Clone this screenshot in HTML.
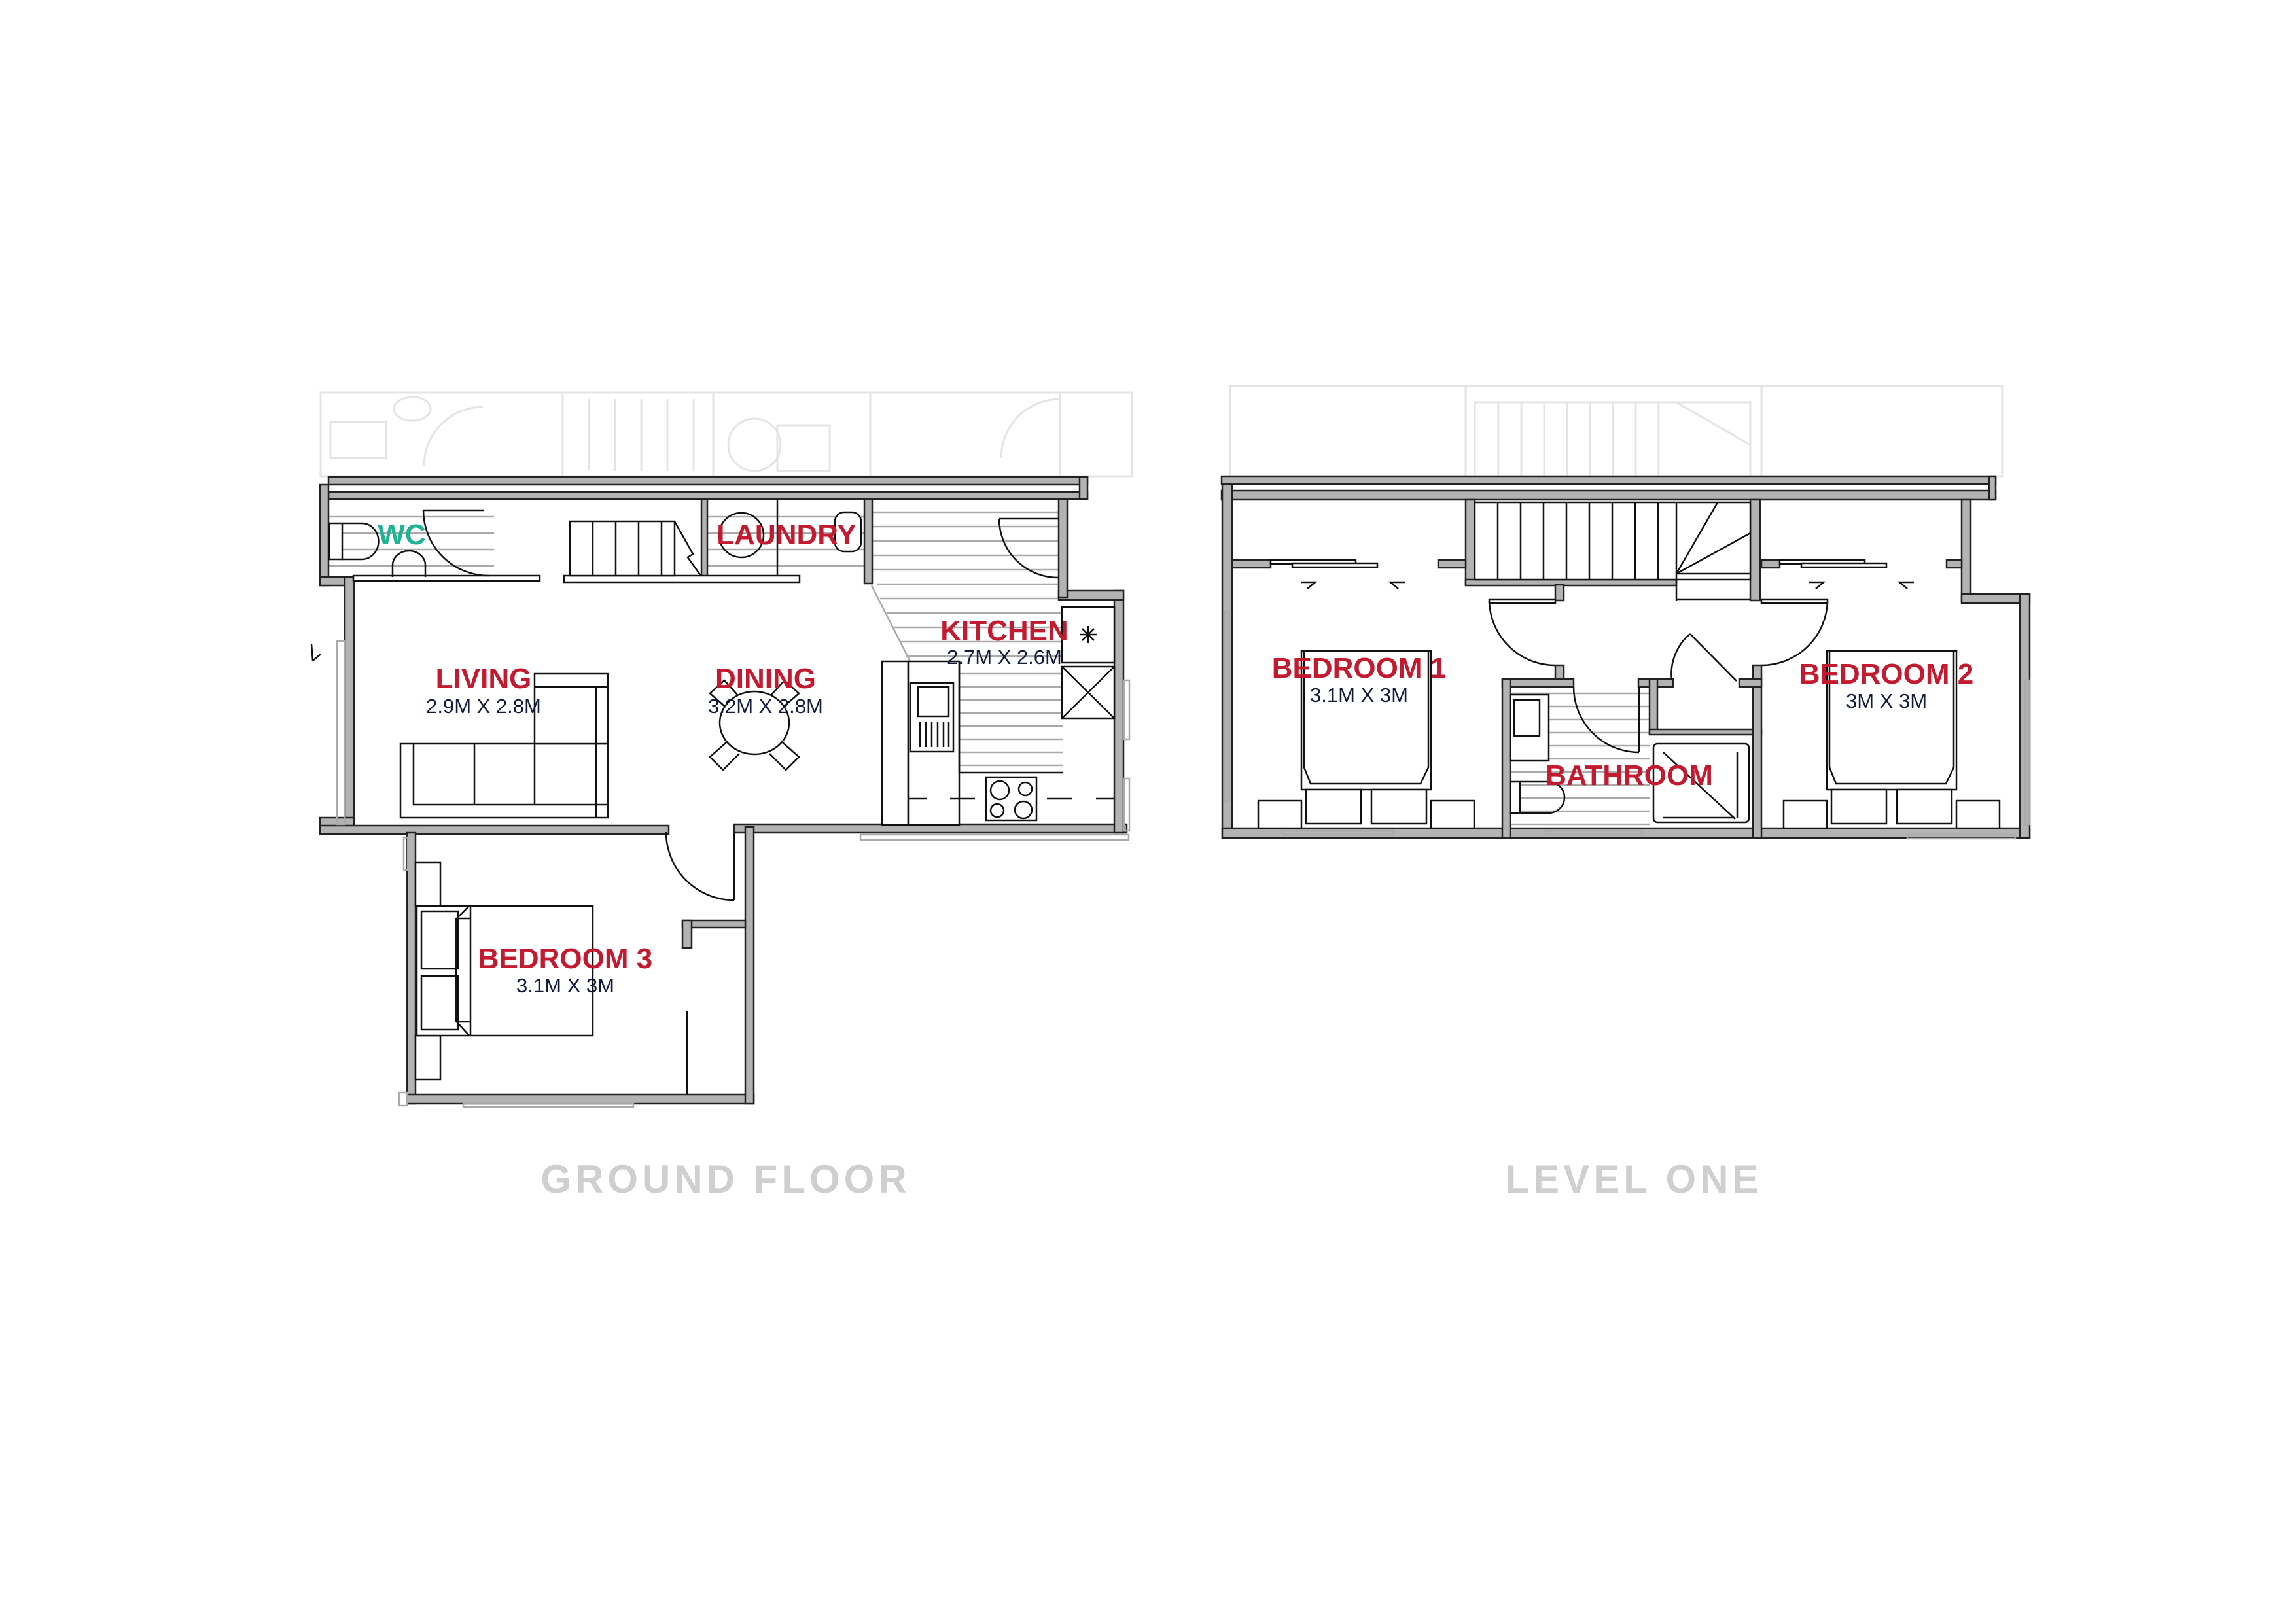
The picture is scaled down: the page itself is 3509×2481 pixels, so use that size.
<!DOCTYPE html>
<html><head><meta charset="utf-8"><style>
html,body{margin:0;padding:0;background:#fff;}
svg{display:block;}
.w{fill:#b3b3b3;stroke:#222;stroke-width:2.5;}
.f{fill:#fff;stroke:#111;stroke-width:2.5;}
.l{fill:none;stroke:#111;stroke-width:2.5;}
.h{fill:none;stroke:#aaa;stroke-width:2.5;}
.g{fill:none;stroke:#e4e4e4;stroke-width:3;}
.t{font-family:"Liberation Sans",sans-serif;font-weight:bold;fill:#c41a30;font-size:44px;text-anchor:middle;}
.s{font-family:"Liberation Sans",sans-serif;fill:#141a3c;font-size:31px;text-anchor:middle;}
.ti{font-family:"Liberation Sans",sans-serif;font-weight:bold;fill:#cfcfcf;font-size:60px;text-anchor:middle;letter-spacing:6px;}
</style></head><body>
<svg width="3509" height="2481" viewBox="0 0 3509 2481" xmlns="http://www.w3.org/2000/svg">
<g class="g">
<rect x="490" y="600" width="1240" height="128"/>
<line x1="860" y1="600" x2="860" y2="728"/><line x1="1090" y1="600" x2="1090" y2="728"/>
<line x1="1330" y1="600" x2="1330" y2="728"/><line x1="1620" y1="600" x2="1620" y2="728"/>
<circle cx="1153" cy="680" r="40"/><rect x="1188" y="650" width="80" height="70"/>
<rect x="505" y="645" width="85" height="55"/><ellipse cx="630" cy="625" rx="28" ry="18"/>
<path d="M648 712 A90 90 0 0 1 738 622"/><path d="M1530 700 A90 90 0 0 1 1620 610"/>
<line x1="900" y1="610" x2="900" y2="720"/><line x1="940" y1="610" x2="940" y2="720"/><line x1="980" y1="610" x2="980" y2="720"/><line x1="1020" y1="610" x2="1020" y2="720"/><line x1="1060" y1="610" x2="1060" y2="720"/>
<rect x="1880" y="590" width="1180" height="138"/>
<rect x="2254" y="615" width="421" height="113"/>
<line x1="2290" y1="615" x2="2290" y2="728"/><line x1="2325" y1="615" x2="2325" y2="728"/><line x1="2360" y1="615" x2="2360" y2="728"/><line x1="2395" y1="615" x2="2395" y2="728"/><line x1="2430" y1="615" x2="2430" y2="728"/><line x1="2465" y1="615" x2="2465" y2="728"/><line x1="2500" y1="615" x2="2500" y2="728"/><line x1="2535" y1="615" x2="2535" y2="728"/><line x1="2562" y1="615" x2="2675" y2="680"/>
<line x1="2240" y1="590" x2="2240" y2="728"/><line x1="2692" y1="590" x2="2692" y2="728"/>
</g>
<g class="h">
<line x1="502" y1="790" x2="755" y2="790"/><line x1="502" y1="815" x2="755" y2="815"/><line x1="502" y1="840" x2="755" y2="840"/><line x1="502" y1="865" x2="755" y2="865"/>
<line x1="1081" y1="790" x2="1321" y2="790"/><line x1="1081" y1="815" x2="1321" y2="815"/><line x1="1081" y1="840" x2="1321" y2="840"/><line x1="1081" y1="865" x2="1321" y2="865"/>
<line x1="1333" y1="783" x2="1618" y2="783"/><line x1="1333" y1="805" x2="1618" y2="805"/><line x1="1333" y1="827" x2="1618" y2="827"/><line x1="1333" y1="849" x2="1618" y2="849"/><line x1="1333" y1="871" x2="1618" y2="871"/><line x1="1340" y1="893" x2="1618" y2="893"/>
<line x1="1345" y1="915" x2="1630" y2="915"/><line x1="1355" y1="937" x2="1630" y2="937"/><line x1="1365" y1="959" x2="1630" y2="959"/><line x1="1375" y1="981" x2="1630" y2="981"/><line x1="1385" y1="1003" x2="1630" y2="1003"/>
<line x1="1332" y1="895" x2="1392" y2="1013"/>
<line x1="1466" y1="1030" x2="1624" y2="1030"/><line x1="1466" y1="1050" x2="1624" y2="1050"/><line x1="1466" y1="1070" x2="1624" y2="1070"/><line x1="1466" y1="1090" x2="1624" y2="1090"/><line x1="1466" y1="1110" x2="1624" y2="1110"/><line x1="1466" y1="1130" x2="1624" y2="1130"/><line x1="1466" y1="1150" x2="1624" y2="1150"/><line x1="1466" y1="1170" x2="1624" y2="1170"/>
</g>
<rect class="w" x="502" y="729" width="1160" height="12"/>
<rect class="w" x="502" y="752" width="1160" height="11"/>
<rect class="w" x="1650" y="729" width="12" height="34"/>
<rect class="w" x="489" y="741" width="13" height="154"/>
<rect class="w" x="489" y="882" width="52" height="13"/>
<rect class="w" x="527" y="882" width="14" height="393"/>
<rect class="w" x="489" y="1250" width="52" height="25"/>
<rect class="w" x="489" y="1262" width="533" height="13"/>
<rect class="w" x="1122" y="1260" width="600" height="13"/>
<rect class="w" x="1703" y="903" width="14" height="370"/>
<rect class="w" x="1618" y="903" width="99" height="14"/>
<rect class="w" x="1618" y="763" width="13" height="150"/>
<rect class="w" x="1072" y="763" width="9" height="121"/>
<rect class="w" x="1321" y="763" width="12" height="129"/>
<rect class="f" x="862" y="880" width="360" height="10"/>
<rect class="f" x="540" y="880" width="285" height="8"/>
<rect class="w" x="622" y="1273" width="13" height="414"/>
<rect class="w" x="622" y="1673" width="530" height="14"/>
<rect class="w" x="1139" y="1264" width="13" height="423"/>
<rect class="w" x="1043" y="1407" width="96" height="11"/>
<rect class="w" x="1043" y="1407" width="14" height="42"/>
<line class="l" x1="1050" y1="1545" x2="1050" y2="1672"/>
<path class="l" d="M1018 1272 A104 104 0 0 0 1122 1376"/><line class="l" x1="1122" y1="1273" x2="1122" y2="1376"/>
<rect class="f" x="503" y="800" width="20" height="55"/><path class="l" d="M523 800 h30 a25 27 0 0 1 0 55 h-30"/>
<path class="l" d="M600 882 v-18 a25 22 0 0 1 50 0 v18"/>
<path class="l" d="M647 780 A100 100 0 0 0 747 880"/><line class="l" x1="647" y1="780" x2="740" y2="780"/>
<rect class="f" x="871" y="797" width="160" height="83"/>
<line class="l" x1="906" y1="797" x2="906" y2="880"/><line class="l" x1="941" y1="797" x2="941" y2="880"/><line class="l" x1="976" y1="797" x2="976" y2="880"/><line class="l" x1="1011" y1="797" x2="1011" y2="880"/>
<path class="l" d="M1031 797 l28 50 l-8 5 l20 28"/>
<circle class="l" cx="1133" cy="818" r="34"/>
<rect class="f" x="1276" y="783" width="40" height="60" rx="14"/>
<line class="l" x1="1188" y1="763" x2="1188" y2="880"/>
<path class="l" d="M1527 793 A90 90 0 0 0 1618 883"/><line class="l" x1="1527" y1="793" x2="1618" y2="793"/>
<rect class="f" x="1348" y="1011" width="40" height="250"/>
<rect class="f" x="1388" y="1011" width="78" height="250"/>
<path class="l" d="M1466 1011 v170 h158"/>
<rect class="f" x="1391" y="1044" width="66" height="105"/>
<rect class="f" x="1403" y="1050" width="47" height="45"/>
<g class="l"><line x1="1406" y1="1103" x2="1406" y2="1142"/><line x1="1415" y1="1103" x2="1415" y2="1142"/><line x1="1424" y1="1103" x2="1424" y2="1142"/><line x1="1433" y1="1103" x2="1433" y2="1142"/><line x1="1442" y1="1103" x2="1442" y2="1142"/><line x1="1450" y1="1103" x2="1450" y2="1142"/></g>
<rect class="f" x="1623" y="928" width="80" height="85"/>
<path class="l" d="M1663 957 v26 M1650 970 h26 M1654 961 l18 18 M1672 961 l-18 18"/>
<rect class="f" x="1623" y="1019" width="80" height="79"/><path class="l" d="M1623 1019 L1703 1098 M1703 1019 L1623 1098"/>
<rect class="f" x="1507" y="1188" width="77" height="66"/>
<circle class="l" cx="1528" cy="1208" r="14"/><circle class="l" cx="1567" cy="1206" r="10"/><circle class="l" cx="1524" cy="1239" r="10"/><circle class="l" cx="1564" cy="1238" r="13"/>
<path class="l" d="M1388 1221 h28 M1452 1221 h38 M1600 1221 h38 M1675 1221 h28" />
<rect class="f" x="612" y="1137" width="317" height="113"/>
<rect class="f" x="817" y="1030" width="112" height="107"/>
<path class="l" d="M632 1137 v93 h297 M725 1137 v93 M817 1137 v93 M911 1050 v200 M817 1050 h112"/>
<ellipse class="f" cx="1153" cy="1105" rx="53" ry="48"/>
<path class="l" d="M1108 1080 l-23 -20 l22 -20 l20 22 M1198 1080 l23 -20 l-22 -20 l-20 22 M1110 1135 l-25 22 l20 20 l25 -25 M1196 1135 l25 22 l-20 20 l-25 -25"/>
<rect class="f" x="635" y="1318" width="38" height="67"/><rect class="f" x="635" y="1583" width="38" height="67"/>
<rect class="f" x="637" y="1385" width="269" height="198"/>
<rect class="f" x="644" y="1393" width="56" height="88"/><rect class="f" x="644" y="1492" width="56" height="82"/>
<path class="l" d="M697 1385 l20 -0 l-20 20 v156 l20 22 M719 1385 v198 M700 1404 h19 M700 1562 h19"/>
<g class="h"><rect x="1718" y="1040" width="8" height="90"/><rect x="1718" y="1190" width="8" height="80"/><rect x="1315" y="1276" width="410" height="8"/><rect x="617" y="1280" width="6" height="50"/><rect x="610" y="1670" width="12" height="20"/><rect x="708" y="1686" width="260" height="6"/><rect x="515" y="980" width="12" height="280"/></g>
<line class="l" x1="478" y1="1010" x2="490" y2="1000"/><line class="l" x1="478" y1="1010" x2="476" y2="985"/>
<g class="h">
<line x1="2308" y1="1060" x2="2521" y2="1060"/><line x1="2308" y1="1080" x2="2521" y2="1080"/><line x1="2308" y1="1100" x2="2521" y2="1100"/><line x1="2308" y1="1120" x2="2521" y2="1120"/><line x1="2308" y1="1140" x2="2521" y2="1140"/><line x1="2308" y1="1160" x2="2521" y2="1160"/><line x1="2308" y1="1180" x2="2521" y2="1180"/><line x1="2308" y1="1200" x2="2521" y2="1200"/><line x1="2308" y1="1220" x2="2521" y2="1220"/><line x1="2308" y1="1240" x2="2521" y2="1240"/><line x1="2308" y1="1260" x2="2521" y2="1260"/>
</g>
<rect class="w" x="1867" y="728" width="1183" height="12"/>
<rect class="w" x="1867" y="750" width="1183" height="14"/>
<rect class="w" x="3040" y="728" width="10" height="36"/>
<rect class="w" x="1868" y="740" width="15" height="541"/>
<rect class="w" x="1868" y="1266" width="1234" height="15"/>
<rect class="w" x="2998" y="764" width="14" height="156"/>
<rect class="w" x="2998" y="908" width="104" height="14"/>
<rect class="w" x="3087" y="908" width="15" height="373"/>
<rect class="w" x="2240" y="764" width="14" height="130"/>
<rect class="w" x="2240" y="886" width="322" height="9"/>
<rect class="w" x="2675" y="764" width="15" height="154"/>
<rect class="f" x="2254" y="768" width="421" height="118"/>
<g class="l"><line x1="2289" y1="768" x2="2289" y2="886"/><line x1="2324" y1="768" x2="2324" y2="886"/><line x1="2359" y1="768" x2="2359" y2="886"/><line x1="2394" y1="768" x2="2394" y2="886"/><line x1="2429" y1="768" x2="2429" y2="886"/><line x1="2464" y1="768" x2="2464" y2="886"/><line x1="2499" y1="768" x2="2499" y2="886"/><line x1="2534" y1="768" x2="2534" y2="886"/><line x1="2562" y1="768" x2="2562" y2="918"/><line x1="2562" y1="877" x2="2625" y2="768"/><line x1="2562" y1="877" x2="2675" y2="815"/><line x1="2562" y1="877" x2="2675" y2="877"/><line x1="2562" y1="916" x2="2675" y2="916"/></g>
<rect class="w" x="1883" y="856" width="59" height="12"/>
<rect class="w" x="2198" y="856" width="42" height="12"/>
<rect class="w" x="2692" y="856" width="28" height="12"/>
<rect class="w" x="2975" y="856" width="23" height="12"/>
<rect class="f" x="1942" y="856" width="130" height="6"/><rect class="f" x="1975" y="861" width="130" height="6"/>
<rect class="f" x="2720" y="856" width="130" height="6"/><rect class="f" x="2753" y="861" width="130" height="6"/>
<path class="l" d="M1988 890 h22 l-12 10 M2147 890 h-22 l12 10 M2765 890 h22 l-12 10 M2925 890 h-22 l12 10"/>
<rect class="w" x="2377" y="894" width="13" height="24"/>
<rect class="f" x="2276" y="916" width="101" height="6"/>
<path class="l" d="M2276 919 A101 101 0 0 0 2377 1017"/>
<rect class="f" x="2692" y="916" width="101" height="6"/>
<path class="l" d="M2793 919 A101 101 0 0 1 2692 1017"/>
<rect class="w" x="2377" y="1017" width="13" height="25"/>
<rect class="w" x="2296" y="1038" width="109" height="12"/>
<rect class="w" x="2296" y="1038" width="12" height="243"/>
<rect class="w" x="2504" y="1038" width="53" height="12"/>
<rect class="w" x="2521" y="1038" width="12" height="84"/>
<rect class="w" x="2521" y="1115" width="171" height="8"/>
<rect class="w" x="2679" y="1017" width="13" height="264"/>
<rect class="w" x="2658" y="1038" width="34" height="12"/>
<path class="l" d="M2405 1050 A100 100 0 0 0 2505 1150"/><line class="l" x1="2505" y1="1050" x2="2505" y2="1150"/>
<path class="l" d="M2583 969 L2654 1041"/><path class="l" d="M2555 1040 A80 80 0 0 1 2583 969"/>
<rect class="f" x="2527" y="1137" width="146" height="120" rx="6"/>
<path class="l" d="M2542 1150 L2652 1252 M2655 1150 v100 M2542 1250 h110"/>
<rect class="f" x="2308" y="1062" width="59" height="101"/><rect class="f" x="2314" y="1070" width="39" height="55"/>
<rect class="f" x="2308" y="1195" width="15" height="48"/><path class="l" d="M2323 1195 h43 a25 24 0 0 1 0 48 h-43"/>
<rect class="f" x="1989" y="995" width="198" height="212"/>
<path class="l" d="M1993 995 v178 l10 25 h168 l12 -25 v-178"/>
<rect class="f" x="1923" y="1224" width="66" height="42"/><rect class="f" x="2187" y="1224" width="66" height="42"/>
<rect class="f" x="1996" y="1207" width="84" height="52"/><rect class="f" x="2096" y="1207" width="84" height="52"/>
<rect class="f" x="2792" y="995" width="198" height="212"/>
<path class="l" d="M2796 995 v178 l10 25 h168 l12 -25 v-178"/>
<rect class="f" x="2726" y="1224" width="66" height="42"/><rect class="f" x="2990" y="1224" width="66" height="42"/>
<rect class="f" x="2799" y="1207" width="84" height="52"/><rect class="f" x="2899" y="1207" width="84" height="52"/>
<g class="h"><rect x="1872" y="935" width="6" height="290"/><rect x="3095" y="1040" width="6" height="220"/><rect x="1960" y="1270" width="170" height="6"/><rect x="2360" y="1270" width="150" height="6"/><rect x="2915" y="1276" width="165" height="6"/></g>
<text x="614" y="832" class="t" style="fill:#1db394">WC</text>
<text x="1202" y="832" class="t">LAUNDRY</text>
<text x="1535" y="979" class="t">KITCHEN</text>
<text x="1535" y="1015" class="s">2.7M X 2.6M</text>
<text x="739" y="1052" class="t">LIVING</text>
<text x="739" y="1090" class="s">2.9M X 2.8M</text>
<text x="1170" y="1052" class="t">DINING</text>
<text x="1170" y="1090" class="s">3.2M X 2.8M</text>
<text x="864" y="1480" class="t">BEDROOM 3</text>
<text x="864" y="1517" class="s">3.1M X 3M</text>
<text x="2077" y="1036" class="t">BEDROOM 1</text>
<text x="2077" y="1073" class="s">3.1M X 3M</text>
<text x="2883" y="1045" class="t">BEDROOM 2</text>
<text x="2883" y="1082" class="s">3M X 3M</text>
<text x="2490" y="1200" class="t">BATHROOM</text>
<text x="1109" y="1823" class="ti">GROUND FLOOR</text>
<text x="2497" y="1823" class="ti">LEVEL ONE</text>
</svg>
</body></html>
